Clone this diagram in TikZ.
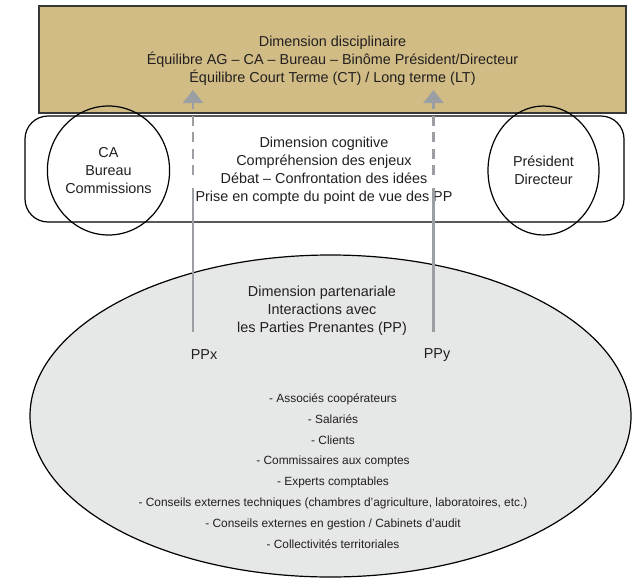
\documentclass[tikz,border=0pt]{standalone}
\usepackage{fontspec}
\setmainfont{Liberation Sans}
\usetikzlibrary{shapes.geometric,arrows.meta}
\definecolor{tanfill}{RGB}{208,188,132}
\definecolor{boxborder}{RGB}{55,55,55}
\definecolor{lightfill}{RGB}{230,231,231}
\definecolor{arrowgray}{RGB}{155,158,162}
\definecolor{txt}{RGB}{35,31,32}
\tikzset{
  maintext/.style={font=\fontsize{14.4pt}{18pt}\selectfont, text=txt, align=center},
  listtext/.style={font=\fontsize{11.9pt}{20.8pt}\selectfont, text=txt, align=center},
  topbox/.style={draw=boxborder, line width=1.6pt, fill=tanfill, minimum width=587pt, minimum height=107pt, inner sep=0pt},
  cogbox/.style={draw=black, line width=1.2pt, rounded corners=23pt, minimum width=599pt, minimum height=106pt, inner sep=0pt},
  smallell/.style={ellipse, draw=black, line width=1.2pt, minimum width=111pt, minimum height=129pt, inner sep=0pt},
  bigell/.style={ellipse, draw=black, line width=1.2pt, fill=lightfill, minimum width=601pt, minimum height=322pt, inner sep=0pt},
  solidshaft/.style={draw=arrowgray, line width=2.6pt},
  dashshaft/.style={draw=arrowgray, line width=2.6pt, dash pattern=on 10pt off 6.5pt, -{Triangle[width=20pt,length=13pt]}},
}
\begin{document}
\begin{tikzpicture}[x=1pt,y=-1pt]
\useasboundingbox (0,0) rectangle (635,584);
\fill[white] (0,0) rectangle (635,584);
% big ellipse
\node[bigell] (part) at (330.5,416) {};
\node[maintext] (parttxt) at (322,311) {Dimension partenariale\\Interactions avec\\les Parties Prenantes (PP)};
\node[listtext] (list) at (333,471) {- Associés coopérateurs\\- Salariés\\- Clients\\- Commissaires aux comptes\\- Experts comptables\\- Conseils externes techniques (chambres d’agriculture, laboratoires, etc.)\\- Conseils externes en gestion / Cabinets d’audit\\- Collectivités territoriales};
% top box
\node[topbox] (disc) at (332.5,59.5) {};
\node[maintext] (disctxt) at (332.5,61) {Dimension disciplinaire\\Équilibre AG – CA – Bureau – Binôme Président/Directeur\\Équilibre Court Terme (CT) / Long terme (LT)};
% cognitive box
\node[cogbox] (cog) at (324.5,169) {};
\node[maintext] (cogtxt) at (324,170.5) {Dimension cognitive\\Compréhension des enjeux\\Débat – Confrontation des idées\\Prise en compte du point de vue des PP};
\node[smallell, maintext] (ca) at (108.5,170.5) {CA\\Bureau\\Commissions};
\node[smallell, maintext] (pd) at (543.5,170.5) {Président\\Directeur};
% PP labels
\node[maintext] (ppx) at (204,355) {PPx};
\node[maintext] (ppy) at (437,355) {PPy};
% arrows
\coordinate (xb) at (193,332);
\coordinate (xm) at (193,188);
\coordinate (xd) at (193,175);
\coordinate (xt) at (193,90);
\coordinate (yb) at (433.5,332);
\coordinate (ym) at (433.5,188);
\coordinate (yd) at (433.5,175);
\coordinate (yt) at (433.5,90);
\draw[solidshaft] (xb) -- (xm);
\draw[dashshaft] (xd) -- (xt);
\draw[solidshaft] (yb) -- (ym);
\draw[dashshaft] (yd) -- (yt);
\end{tikzpicture}
\end{document}
